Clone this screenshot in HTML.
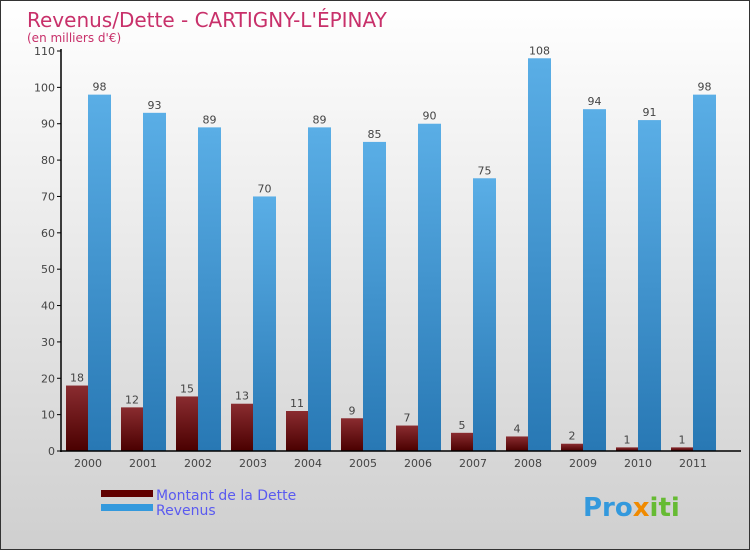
<!DOCTYPE html>
<html><head><meta charset="utf-8"><style>
body{margin:0}
#c{width:750px;height:550px;position:relative;box-sizing:border-box;border:1px solid #333;background:linear-gradient(#ffffff,#cfcfcf);font-family:"DejaVu Sans","Liberation Sans",sans-serif;overflow:hidden}
</style></head><body>
<div id="c">
<svg id="s" width="750" height="550" style="position:absolute;left:0;top:0">
<defs>
<linearGradient id="gd" x1="0" y1="0" x2="0" y2="1"><stop offset="0" stop-color="#8a2c30"/><stop offset="1" stop-color="#4a0000"/></linearGradient>
<linearGradient id="gr" x1="0" y1="0" x2="0" y2="1"><stop offset="0" stop-color="#5aaee6"/><stop offset="1" stop-color="#2878b4"/></linearGradient>
</defs>
<text x="26" y="26" font-size="20" fill="#c8306a">Revenus/Dette - CARTIGNY-L'ÉPINAY</text>
<text x="26" y="41" font-size="12" fill="#c8306a">(en milliers d'€)</text>
<g id="g"></g>
<rect x="100" y="489" width="52" height="7" fill="#600000"/>
<rect x="100" y="503" width="52" height="7" fill="#3399dd"/>
<text x="155" y="499" font-size="14" fill="#5a5af0">Montant de la Dette</text>
<text x="155" y="514" font-size="14" fill="#5a5af0">Revenus</text>
<text x="582" y="515" font-size="26" font-weight="bold" fill="#3399dd">Pro<tspan fill="#f08a00">x</tspan><tspan fill="#66bb33">iti</tspan></text>
</svg>
</div>
<script>
const years=["2000","2001","2002","2003","2004","2005","2006","2007","2008","2009","2010","2011"];
const dette=[18,12,15,13,11,9,7,5,4,2,1,1];
const revenus=[98,93,89,70,89,85,90,75,108,94,91,98];
const ticks=[0,10,20,30,40,50,60,70,80,90,100,110];
const NS="http://www.w3.org/2000/svg";
const g=document.getElementById('g');
const y=v=>450-v*400/110;
const x0=i=>65+i*55;
function mk(t,a,txt){const e=document.createElementNS(NS,t);for(const k in a)e.setAttribute(k,a[k]);if(txt!==undefined)e.textContent=txt;g.appendChild(e);return e;}
ticks.forEach(t=>{
 let l=mk('line',{x1:56,x2:60,y1:y(t),y2:y(t),stroke:'#000'});
 
 
 let tx=mk('text',{x:54,y:y(t)+4,'font-size':11,fill:'#444','text-anchor':'end'},t);
 
 
});
years.forEach((yr,i)=>{
 const xd=x0(i);
 let b=mk('rect',{x:xd,y:y(dette[i]),width:22,height:450-y(dette[i]),fill:'url(#gd)'});
 
 
 let r=mk('rect',{x:xd+22,y:y(revenus[i]),width:23,height:450-y(revenus[i]),fill:'url(#gr)'});
 
 
 let t1=mk('text',{x:xd+11,y:y(dette[i])-4,'font-size':11,fill:'#444','text-anchor':'middle'},dette[i]);
 
 
 let t2=mk('text',{x:xd+33.5,y:y(revenus[i])-4,'font-size':11,fill:'#444','text-anchor':'middle'},revenus[i]);
 
 
 let xl=mk('text',{x:xd+22,y:466,'font-size':11,fill:'#444','text-anchor':'middle'},yr);
 
 
});
let ya=mk('line',{x1:60,x2:60,y1:48,y2:451,stroke:'#000','stroke-width':1.5});


let xa=mk('line',{x1:59,x2:740,y1:450,y2:450,stroke:'#000','stroke-width':1.5});


</script>
</body></html>
